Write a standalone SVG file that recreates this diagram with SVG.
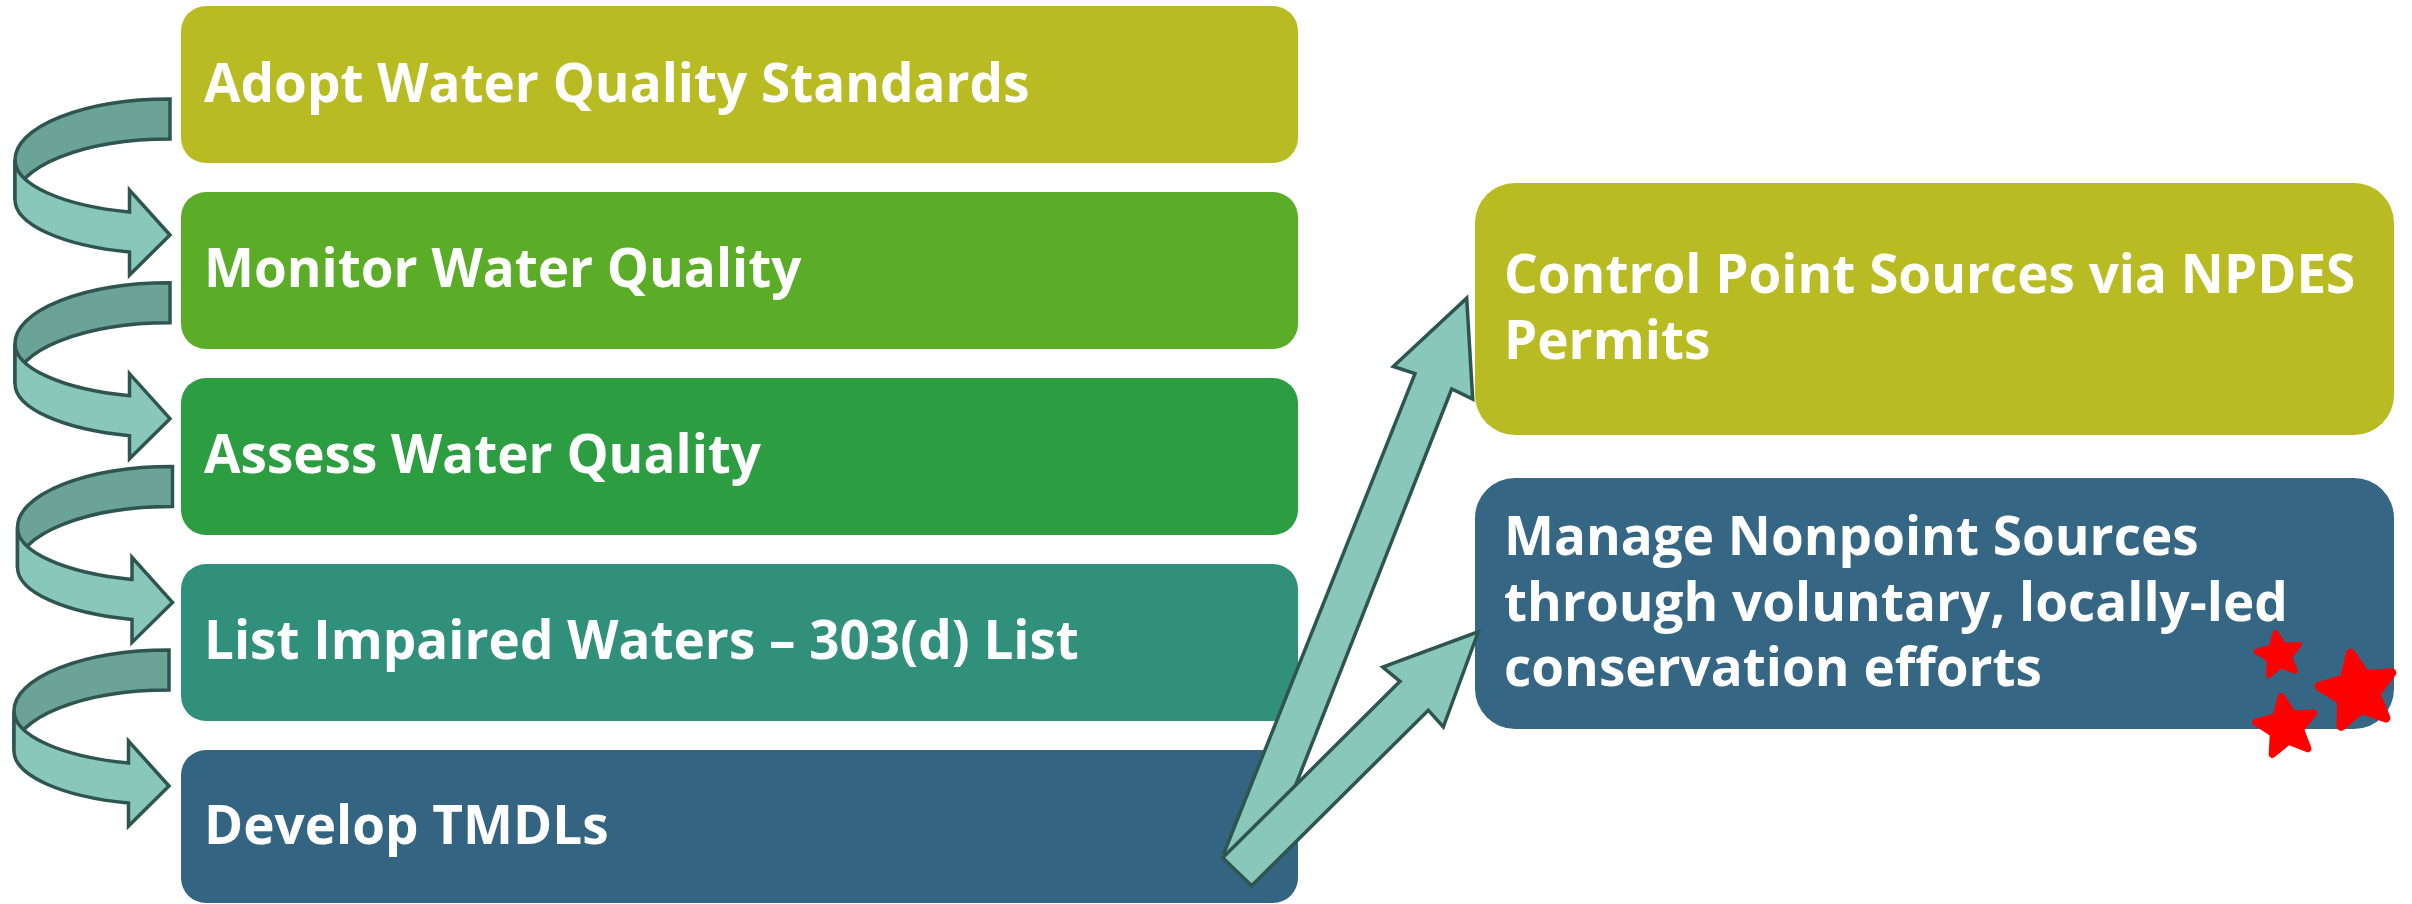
<svg xmlns="http://www.w3.org/2000/svg" xmlns:xlink="http://www.w3.org/1999/xlink" width="2412" height="904" viewBox="0 0 2412 904">
<style>
.lbl{font-family:"Open Sans","Liberation Sans",sans-serif;font-weight:700;font-size:53px;fill:#ffffff}
.back{fill:#6BA397;stroke:#2F5550;stroke-width:3.5;stroke-linejoin:miter}
.front{fill:#88C7BA;stroke:#2F5550;stroke-width:3.5;stroke-linejoin:miter}
.star{fill:#FF0000;stroke:#FF0000;stroke-width:8;stroke-linejoin:round}
</style>
<defs>
<g id="curl">
<path class="back" d="M170,99 A155,61 0 0 0 15,160 L15,200 A155,61 0 0 1 170,139 Z"/>
<path class="front" d="M15,160 A155,54 0 0 0 129.5,212 L129.5,190 L170,235 L129.5,275 L129.5,252 A155,54 0 0 1 15,200 Z"/>
</g>
<path id="starShape" class="star" d="M0,-34 L9.4,-12.94 L32.34,-10.51 L15.22,4.94 L19.99,27.51 L0,16 L-19.99,27.51 L-15.22,4.94 L-32.34,-10.51 L-9.4,-12.94 Z"/>
</defs>
<rect width="2412" height="904" fill="#ffffff"/>
<g id="node-adopt">
<rect x="181" y="6" width="1117" height="157" rx="25" fill="#B8BC22"/>
<text class="lbl" x="204" y="102">Adopt Water Quality Standards</text>
</g>
<g id="node-monitor">
<rect x="181" y="192" width="1117" height="157" rx="25" fill="#5BAD27"/>
<text class="lbl" x="204" y="287">Monitor Water Quality</text>
</g>
<g id="node-assess">
<rect x="181" y="378" width="1117" height="157" rx="25" fill="#2C9D41"/>
<text class="lbl" x="204" y="473">Assess Water Quality</text>
</g>
<g id="node-list">
<rect x="181" y="564" width="1117" height="157" rx="25" fill="#30907B"/>
<text class="lbl" x="204" y="659">List Impaired Waters – 303(d) List</text>
</g>
<g id="node-tmdl">
<rect x="181" y="750" width="1117" height="153" rx="25" fill="#336481"/>
<text class="lbl" x="204" y="844">Develop TMDLs</text>
</g>
<g id="node-npdes">
<rect x="1475" y="183" width="919" height="252" rx="40" fill="#B8BC22"/>
<text class="lbl" x="1504" y="293">Control Point Sources via NPDES</text>
<text class="lbl" x="1504" y="359">Permits</text>
</g>
<g id="node-nonpoint">
<rect x="1475" y="478" width="919" height="251" rx="40" fill="#356683"/>
<text class="lbl" x="1504" y="555">Manage Nonpoint Sources</text>
<text class="lbl" x="1504" y="621">through voluntary, locally-led</text>
<text class="lbl" x="1504" y="686">conservation efforts</text>
</g>
<g id="connectors">
<use xlink:href="#curl"/>
<use xlink:href="#curl" transform="translate(0,183.7)"/>
<use xlink:href="#curl" transform="translate(2.5,367.4)"/>
<use xlink:href="#curl" transform="translate(-1,551)"/>
<path class="front" d="M1224,853 L1415,373.6 L1393.3,366.4 L1466.7,298.1 L1472.7,399.1 L1451.7,389 L1263,868 Z"/>
<path class="front" d="M1222.7,857.8 L1400,681.3 L1382.7,667 L1478.3,631.8 L1443.3,727 L1428.3,710.2 L1251.7,885.7 Z"/>
</g>
<g id="stars">
<use xlink:href="#starShape" transform="translate(2279,655) rotate(-9) scale(0.67)"/>
<use xlink:href="#starShape" transform="translate(2357.7,691.3) rotate(-10.6) scale(1.14)"/>
<use xlink:href="#starShape" transform="translate(2286.2,727) rotate(-9) scale(0.9)"/>
</g>
</svg>
